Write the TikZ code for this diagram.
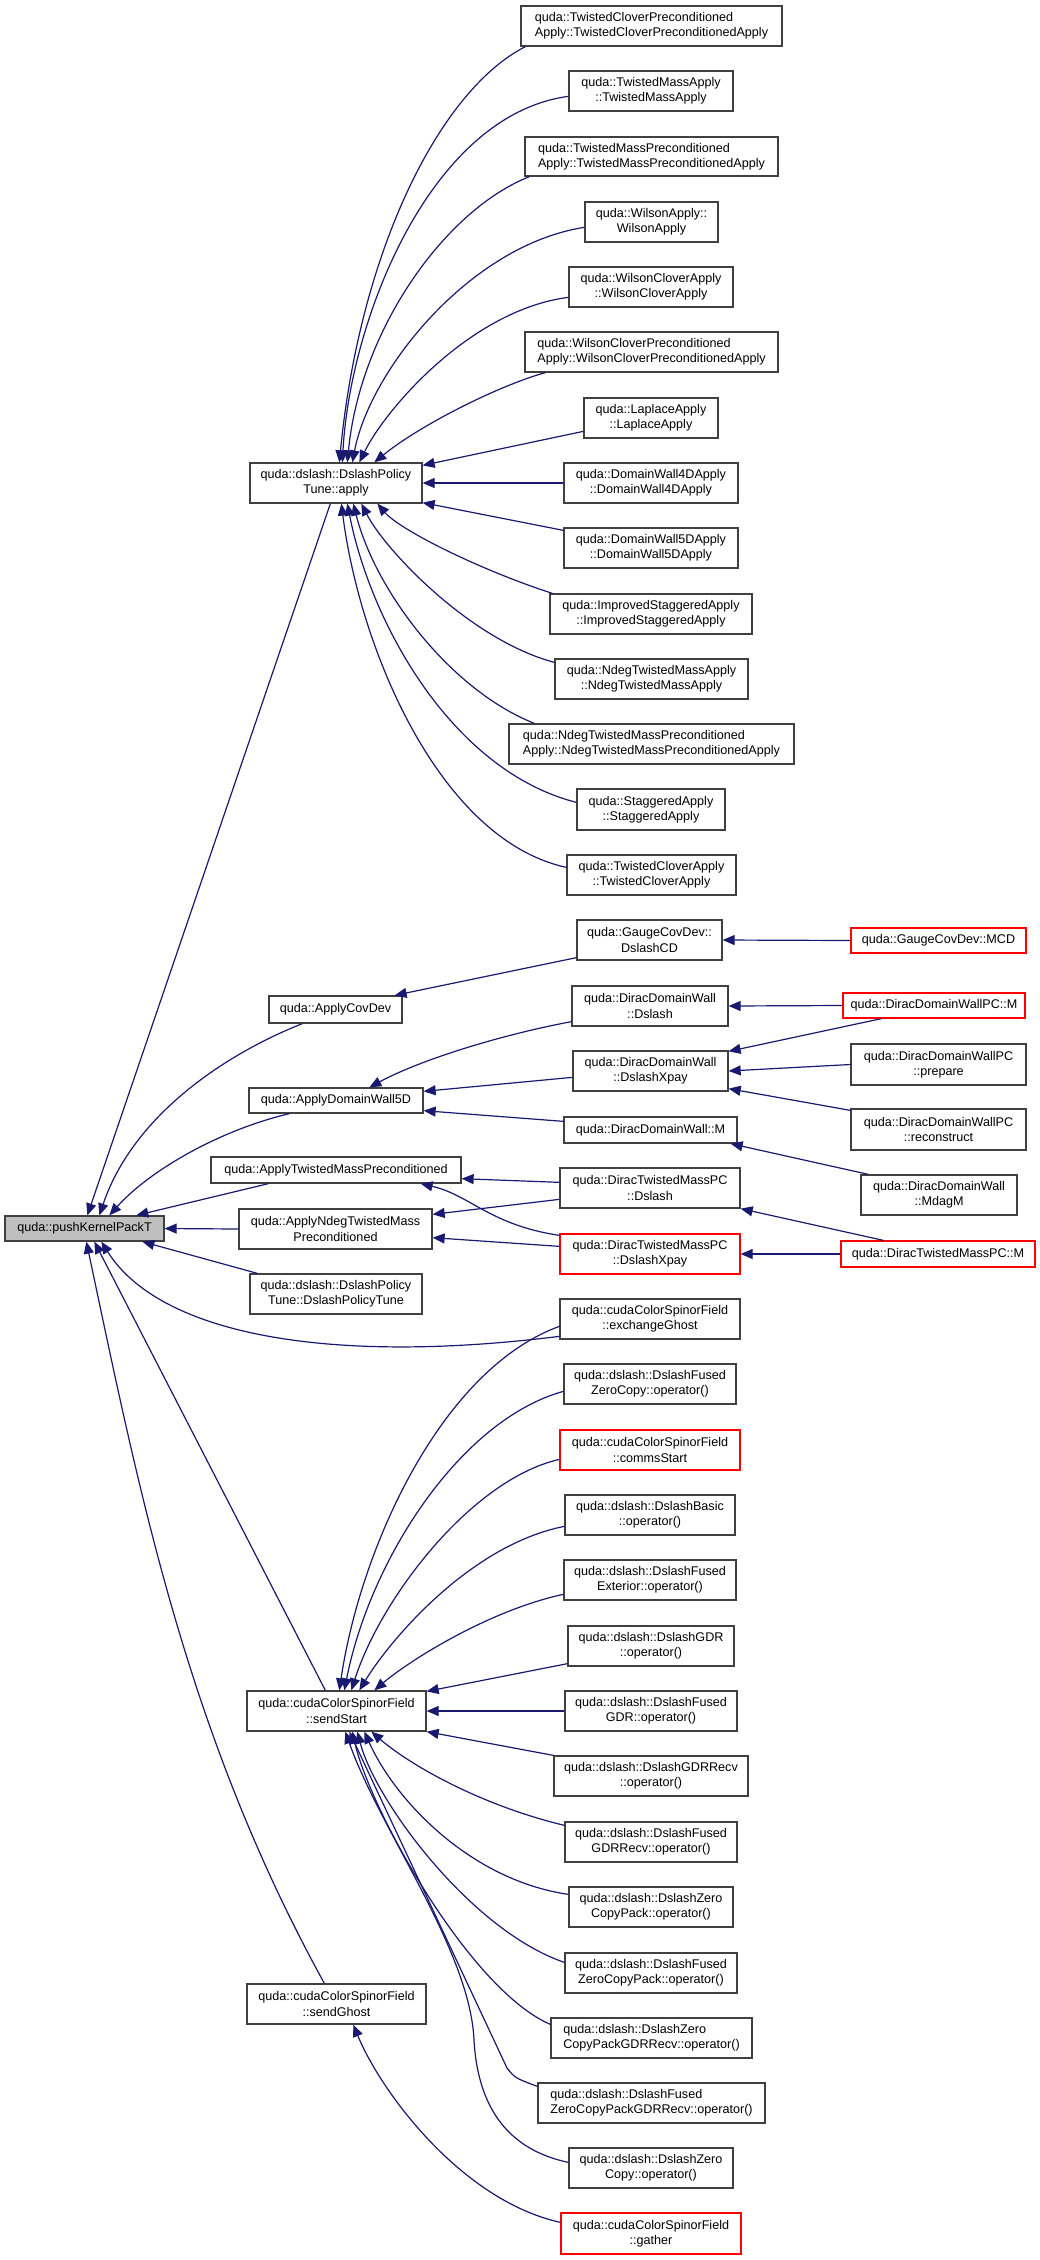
\documentclass[tikz,border=0pt]{standalone}
\usepackage{fontspec}
\setmainfont{Liberation Sans}
\usetikzlibrary{arrows.meta,calc}
\definecolor{edgec}{HTML}{191970}
\definecolor{boxline}{HTML}{404040}
\tikzset{
  box/.style={draw=boxline, line width=1.3pt, inner sep=0pt, font=\fontsize{12.6}{15.3}\selectfont, align=center, text=black, fill=white},
  redbox/.style={draw=red},
  grayfill/.style={fill=black!25},
  lft/.style={align=left},
  conn/.style={draw=edgec, line width=1.2pt, {Triangle[length=12pt,width=10pt]}-},
}
\newcommand\qbox[7][]{\node[box,#1,minimum width={(#5-#3)*1pt},minimum height={(#6-#4)*1pt}] (#2) at ({(#3+#5)/2},{(#4+#6)/2}) {#7};}
\begin{document}
\begin{tikzpicture}[x=1pt,y=-1pt]
\useasboundingbox[fill=white] (0,0) rectangle (1039,2260);

% ---------- edges (drawn first) ----------
% placeholders: nodes needed first, so edges drawn on background via layers is avoided; nodes are drawn first below
\qbox[grayfill]{push}{5}{1216}{164}{1241}{quda::pushKernelPackT}
\qbox{apply}{250}{463}{422}{503}{quda::dslash::DslashPolicy\\Tune::apply}
\qbox[lft]{tcpa}{521}{6}{782}{46}{quda::TwistedCloverPreconditioned\\Apply::TwistedCloverPreconditionedApply}
\qbox{tma}{569}{71}{733}{111}{quda::TwistedMassApply\\::TwistedMassApply}
\qbox[lft]{tmpa}{525}{137}{778}{176}{quda::TwistedMassPreconditioned\\Apply::TwistedMassPreconditionedApply}
\qbox{wa}{585}{202}{718}{242}{quda::WilsonApply::\\WilsonApply}
\qbox{wca}{569}{267}{733}{307}{quda::WilsonCloverApply\\::WilsonCloverApply}
\qbox[lft]{wcpa}{525}{332}{778}{372}{quda::WilsonCloverPreconditioned\\Apply::WilsonCloverPreconditionedApply}
\qbox{la}{584}{398}{718}{438}{quda::LaplaceApply\\::LaplaceApply}
\qbox{dwfour}{564}{463}{738}{503}{quda::DomainWall4DApply\\::DomainWall4DApply}
\qbox{dwfive}{564}{528}{738}{568}{quda::DomainWall5DApply\\::DomainWall5DApply}
\qbox{isa}{550}{594}{752}{634}{quda::ImprovedStaggeredApply\\::ImprovedStaggeredApply}
\qbox{ntma}{555}{659}{748}{699}{quda::NdegTwistedMassApply\\::NdegTwistedMassApply}
\qbox[lft]{ntmpa}{509}{724}{794}{764}{quda::NdegTwistedMassPreconditioned\\Apply::NdegTwistedMassPreconditionedApply}
\qbox{sa}{577}{789}{725}{830}{quda::StaggeredApply\\::StaggeredApply}
\qbox{tca}{567}{855}{736}{895}{quda::TwistedCloverApply\\::TwistedCloverApply}
\qbox{gcd}{577}{920}{722}{960}{quda::GaugeCovDev::\\DslashCD}
\qbox[redbox]{mcd}{851}{928}{1026}{953}{quda::GaugeCovDev::MCD}
\qbox{covdev}{269}{996}{402}{1023}{quda::ApplyCovDev}
\qbox{ddwd}{572}{986}{728}{1026}{quda::DiracDomainWall\\::Dslash}
\qbox[redbox]{ddwpcm}{843}{993}{1025}{1018}{quda::DiracDomainWallPC::M}
\qbox{ddwx}{573}{1051}{728}{1091}{quda::DiracDomainWall\\::DslashXpay}
\qbox{prep}{851}{1044}{1026}{1085}{quda::DiracDomainWallPC\\::prepare}
\qbox{adw}{249}{1088}{423}{1113}{quda::ApplyDomainWall5D}
\qbox{ddwm}{564}{1117}{737}{1143}{quda::DiracDomainWall::M}
\qbox{recon}{851}{1109}{1026}{1150}{quda::DiracDomainWallPC\\::reconstruct}
\qbox{atmp}{211}{1157}{461}{1183}{quda::ApplyTwistedMassPreconditioned}
\qbox{dtmd}{560}{1168}{740}{1208}{quda::DiracTwistedMassPC\\::Dslash}
\qbox{mdagm}{861}{1175}{1017}{1215}{quda::DiracDomainWall\\::MdagM}
\qbox{antmp}{239}{1209}{432}{1249}{quda::ApplyNdegTwistedMass\\Preconditioned}
\qbox[redbox]{dtmx}{560}{1234}{740}{1274}{quda::DiracTwistedMassPC\\::DslashXpay}
\qbox[redbox]{dtmm}{841}{1241}{1035}{1267}{quda::DiracTwistedMassPC::M}
\qbox{dpt}{250}{1274}{422}{1314}{quda::dslash::DslashPolicy\\Tune::DslashPolicyTune}
\qbox{exg}{560}{1299}{740}{1339}{quda::cudaColorSpinorField\\::exchangeGhost}
\qbox{dfzc}{564}{1364}{736}{1404}{quda::dslash::DslashFused\\ZeroCopy::operator()}
\qbox[redbox]{cs}{560}{1430}{740}{1470}{quda::cudaColorSpinorField\\::commsStart}
\qbox{db}{565}{1495}{735}{1535}{quda::dslash::DslashBasic\\::operator()}
\qbox{dfe}{564}{1560}{736}{1600}{quda::dslash::DslashFused\\Exterior::operator()}
\qbox{dg}{568}{1626}{734}{1666}{quda::dslash::DslashGDR\\::operator()}
\qbox{ss}{247}{1691}{426}{1731}{quda::cudaColorSpinorField\\::sendStart}
\qbox{dfg}{565}{1691}{737}{1731}{quda::dslash::DslashFused\\GDR::operator()}
\qbox{dgr}{554}{1756}{748}{1796}{quda::dslash::DslashGDRRecv\\::operator()}
\qbox{dfgr}{565}{1822}{737}{1862}{quda::dslash::DslashFused\\GDRRecv::operator()}
\qbox{dzcp}{569}{1887}{733}{1927}{quda::dslash::DslashZero\\CopyPack::operator()}
\qbox{dfzcp}{565}{1953}{737}{1993}{quda::dslash::DslashFused\\ZeroCopyPack::operator()}
\qbox{sg}{247}{1984}{426}{2024}{quda::cudaColorSpinorField\\::sendGhost}
\qbox[lft]{dzcpgr}{551}{2018}{752}{2058}{quda::dslash::DslashZero\\CopyPackGDRRecv::operator()}
\qbox[lft]{dfzcpgr}{538}{2083}{765}{2123}{quda::dslash::DslashFused\\ZeroCopyPackGDRRecv::operator()}
\qbox{dzc}{569}{2148}{733}{2188}{quda::dslash::DslashZero\\Copy::operator()}
\qbox[redbox]{gat}{561}{2213}{741}{2254}{quda::cudaColorSpinorField\\::gather}

% ---------- edges into apply ----------
\draw[conn] ([xshift=90pt]apply.north west) .. controls (360,250) and (440,90) .. ([xshift=5pt]tcpa.south west);
\draw[conn] ([xshift=93pt]apply.north west) .. controls (350,320) and (430,115) .. ([yshift=-26pt]tma.north west);
\draw[conn] ([xshift=98pt]apply.north west) .. controls (360,330) and (445,210) .. ([xshift=5pt]tmpa.south west);
\draw[conn] ([xshift=103pt]apply.north west) .. controls (370,370) and (470,245) .. ([yshift=-26pt]wa.north west);
\draw[conn] ([xshift=110pt]apply.north west) .. controls (385,410) and (470,310) .. ([yshift=-31pt]wca.north west);
\draw[conn] ([xshift=125pt]apply.north west) .. controls (420,425) and (500,385) .. ([xshift=21pt]wcpa.south west);
\draw[conn] ([yshift=-3pt]apply.north east) -- ([yshift=-34pt]la.north west);
\draw[conn] (apply.east) -- (dwfour.west);
\draw[conn] ([yshift=1pt]apply.south east) -- ([yshift=-3pt]dwfive.north west);
\draw[conn] ([xshift=128pt]apply.south west) .. controls (400,530) and (480,570) .. ([xshift=3pt]isa.north west);
\draw[conn] ([xshift=112pt]apply.south west) .. controls (385,550) and (470,640) .. ([yshift=-4pt]ntma.north west);
\draw[conn] ([xshift=104pt]apply.south west) .. controls (375,590) and (450,690) .. ([xshift=26pt]ntmpa.north west);
\draw[conn] ([xshift=98pt]apply.south west) .. controls (370,620) and (450,770) .. ([yshift=-14pt]sa.north west);
\draw[conn] ([xshift=92pt]apply.south west) .. controls (360,650) and (440,840) .. ([yshift=-13pt]tca.north west);

% ---------- edges into push ----------
\draw[conn] ([xshift=83pt]push.north west) -- ([xshift=81pt]apply.south west);
\draw[conn] ([xshift=95pt]push.north west) .. controls (135,1110) and (235,1050) .. ([xshift=34pt]covdev.south west);
\draw[conn] ([xshift=105pt]push.north west) .. controls (150,1170) and (220,1130) .. ([xshift=41pt]adw.south west);
\draw[conn] ([xshift=132pt]push.north west) -- ([xshift=58pt]atmp.south west);
\draw[conn] (push.east) -- (antmp.west);
\draw[conn] ([xshift=138pt]push.south west) -- ([xshift=8pt]dpt.north west);
\draw[conn] ([xshift=97pt]push.south west) .. controls (160,1335) and (330,1365) .. ([yshift=-38pt]exg.north west);
\draw[conn] ([xshift=90pt]push.south west) -- ([xshift=79pt]ss.north west);
\draw[conn] ([xshift=82pt]push.south west) .. controls (140,1495) and (187,1734) .. ([xshift=78pt]sg.north west);

% ---------- middle section ----------
\draw[conn] ([xshift=-8pt]covdev.north east) -- ([yshift=3pt]gcd.south west);
\draw[conn] (gcd.east) -- (mcd.west);
\draw[conn] ([xshift=121pt]adw.north west) .. controls (420,1060) and (500,1035) .. ([yshift=5pt]ddwd.south west);
\draw[conn] ([yshift=-4pt]adw.north east) -- ([yshift=-27pt]ddwx.north west);
\draw[conn] ([yshift=3pt]adw.south east) -- ([yshift=-5pt]ddwm.north west);
\draw[conn] (ddwd.east) -- (ddwpcm.west);
\draw[conn] ([yshift=-1pt]ddwx.north east) -- ([xshift=39pt]ddwpcm.south west);
\draw[conn] (ddwx.east) -- (prep.west);
\draw[conn] ([yshift=3pt]ddwx.south east) -- ([yshift=-2pt]recon.north west);
\draw[conn] ([xshift=-7pt]ddwm.south east) -- ([xshift=8pt]mdagm.north west);
\draw[conn] ([yshift=5pt]atmp.south east) -- ([yshift=-15pt]dtmd.north west);
\draw[conn] ([xshift=-41pt]atmp.south east) .. controls (470,1195) and (490,1225) .. ([yshift=-2pt]dtmx.north west);
\draw[conn] ([yshift=-6pt]antmp.north east) -- ([yshift=-32pt]dtmd.north west);
\draw[conn] ([yshift=12pt]antmp.south east) -- ([yshift=-13pt]dtmx.north west);
\draw[conn] (dtmd.south east) -- ([xshift=43pt]dtmm.north west);
\draw[conn] (dtmx.east) -- (dtmm.west);

% ---------- edges into sendStart ----------
\draw[conn] ([xshift=93pt]ss.north west) .. controls (360,1550) and (440,1370) .. ([yshift=-28pt]exg.north west);
\draw[conn] ([xshift=98pt]ss.north west) .. controls (370,1560) and (460,1420) .. ([yshift=-28pt]dfzc.north west);
\draw[conn] ([xshift=105pt]ss.north west) .. controls (380,1600) and (470,1480) .. ([yshift=-30pt]cs.north west);
\draw[conn] ([xshift=113pt]ss.north west) .. controls (390,1640) and (470,1545) .. ([yshift=-32pt]db.north west);
\draw[conn] ([xshift=128pt]ss.north west) .. controls (410,1660) and (490,1610) .. ([yshift=-35pt]dfe.north west);
\draw[conn] ([yshift=-1pt]ss.north east) -- ([yshift=3pt]dg.south west);
\draw[conn] (ss.east) -- (dfg.west);
\draw[conn] (ss.south east) -- (dgr.north west);
\draw[conn] ([xshift=125pt]ss.south west) .. controls (410,1765) and (480,1805) .. ([yshift=-4pt]dfgr.north west);
\draw[conn] ([xshift=118pt]ss.south west) .. controls (395,1800) and (470,1880) .. ([yshift=-8pt]dzcp.north west);
\draw[conn] ([xshift=111pt]ss.south west) .. controls (375,1800) and (470,1930) .. ([yshift=-10pt]dfzcp.north west);
\draw[conn] ([xshift=106pt]ss.south west) .. controls (370,1810) and (470,1990) .. ([yshift=-7pt]dzcpgr.north west);
\draw[conn] ([xshift=103pt]ss.south west) -- (507,2068) .. controls (515,2078) .. ([yshift=-4pt]dfzcpgr.north west);
\draw[conn] ([xshift=99pt]ss.south west) .. controls (380,1830) and (470,1950) .. (474,2040) .. controls (478,2110) and (510,2150) .. ([yshift=-15pt]dzc.north west);
\draw[conn] ([xshift=107pt]sg.south west) .. controls (380,2090) and (460,2200) .. ([yshift=-10pt]gat.north west);
\end{tikzpicture}
\end{document}
